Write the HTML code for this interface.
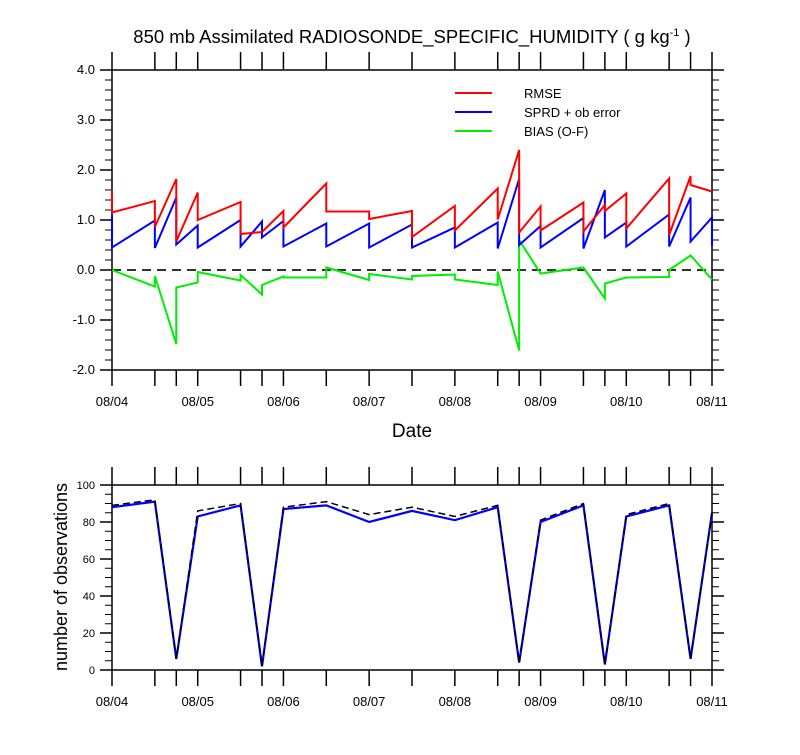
<!DOCTYPE html>
<html><head><meta charset="utf-8"><style>
body{margin:0;background:#fff;}
svg text{font-family:"Liberation Sans",Arial,sans-serif;}
</style></head><body>
<svg id="chart" width="800" height="750" xmlns="http://www.w3.org/2000/svg">
<text x="412" y="43" text-anchor="middle" font-size="18.5">850 mb Assimilated RADIOSONDE_SPECIFIC_HUMIDITY ( g kg<tspan dy="-7" font-size="11">-1</tspan><tspan dy="7"> )</tspan></text>
<text x="412" y="437" text-anchor="middle" font-size="19">Date</text>
<text transform="translate(67,577) rotate(-90)" text-anchor="middle" font-size="18">number of observations</text>
<g id="topPanel"></g>
<g id="botPanel"></g>
<g id="legend"></g>
</svg>
<script>
const times=[0,12,18,24,36,42,48,60,72,84,96,108,114,120,132,138,144,156,162,168];
const dateLabels=["08/04","08/05","08/06","08/07","08/08","08/09","08/10","08/11"];
const yTicksTop=[-2,-1,0,1,2,3,4];
const yTicksBot=[0,20,40,60,80,100];
const rmsePrior=[1.6,1.38,1.82,1.55,1.36,0.76,1.18,1.73,1.17,1.18,1.28,1.63,2.4,1.27,1.35,1.3,1.53,1.83,1.88,1.57];
const rmsePost=[1.15,0.86,0.57,1.0,0.72,0.76,0.85,1.17,1.02,0.66,0.79,1.01,0.75,0.79,0.77,1.18,0.83,0.7,1.7,1.57];
const sprdPrior=[1.1,0.99,1.45,0.89,1.0,0.97,0.98,0.93,0.93,0.91,0.85,0.95,1.82,0.88,1.04,1.6,0.95,1.11,1.45,1.05];
const sprdPost=[0.45,0.44,0.51,0.45,0.47,0.65,0.47,0.47,0.45,0.45,0.45,0.43,0.5,0.45,0.43,0.65,0.47,0.47,0.57,0.48];
const biasPrior=[0,-0.33,-1.48,-0.25,-0.21,-0.49,-0.13,-0.15,-0.2,-0.19,-0.09,-0.3,-1.61,-0.07,0.05,-0.57,-0.15,-0.14,0.29,-0.19];
const biasPost=[0,-0.12,-0.35,-0.04,-0.1,-0.3,-0.15,0.05,-0.08,-0.12,-0.19,-0.03,0.6,-0.07,0.05,-0.27,-0.15,0.0,0.29,-0.19];
const obsUsed=[88,91,6,83,89,2,87,89,80,86,81,88,4,80,89,3,83,89,6,85];
const obsPoss=[89,92,6,86,90,2,88,91,84,88,83,89,4,81,90,3,84,90,6,85];

const NS="http://www.w3.org/2000/svg";
const X0=112,X1=712;
const xs=h=>X0+(X1-X0)*h/168;
const T0=70,T1=370,yt=v=>T1-(v+2)*(T1-T0)/6;
const B0=485,B1=670,yb=v=>B1-v*(B1-B0)/100;
function el(p,tag,a){const e=document.createElementNS(NS,tag);for(const k in a)e.setAttribute(k,a[k]);p.appendChild(e);return e;}
function frame(g,ytop,ybot,ticks,ys,fmt,minorStep,lo,hi){
  const r=el(g,'rect',{x:X0,y:ytop,width:X1-X0,height:ybot-ytop,fill:'none',stroke:'#000','stroke-width':1.5});
  
  
  times.forEach(t=>{
    const a=el(g,'line',{x1:xs(t),x2:xs(t),y1:ytop-18,y2:ytop,stroke:'#000','stroke-width':1.5});
    
    
    const b=el(g,'line',{x1:xs(t),x2:xs(t),y1:ybot,y2:ybot+16,stroke:'#000','stroke-width':1.5});
    
    
  });
  dateLabels.forEach((d,i)=>{
    const tx=el(g,'text',{x:xs(i*24),y:ybot+36,'text-anchor':'middle','font-size':13});
    tx.textContent=d;
    
    
  });
  for(let v=lo;v<=hi+1e-9;v+=minorStep){
    [[X0,-7],[X1,7]].forEach(([x,d])=>{
      const m=el(g,'line',{x1:x,x2:x+d,y1:ys(v),y2:ys(v),stroke:'#000','stroke-width':1});
      
      
    });
  }
  ticks.forEach(v=>{
    [[X0,-12],[X1,12]].forEach(([x,d])=>{
      const m=el(g,'line',{x1:x,x2:x+d,y1:ys(v),y2:ys(v),stroke:'#000','stroke-width':1.5});
      
      
    });
    const tx=el(g,'text',{x:X0-17,y:ys(v)+4,'text-anchor':'end','font-size':fmt===1?13:11});
    tx.textContent=fmt===1?v.toFixed(1):String(v);
    
    
  });
}
const gTop=document.getElementById('topPanel'),gBot=document.getElementById('botPanel');
frame(gTop,T0,T1,yTicksTop,yt,1,0.2,-2,4);
frame(gBot,B0,B1,yTicksBot,yb,0,5,0,100);
const z=el(gTop,'line',{x1:X0,x2:X1,y1:yt(0),y2:yt(0),stroke:'#333','stroke-width':2,'stroke-dasharray':'9,6'});


function saw(pr,po,color,name){
  let d='';times.forEach((t,i)=>{d+=(i?'L':'M')+xs(t)+','+yt(pr[i])+'L'+xs(t)+','+yt(po[i]);});
  const p=el(gTop,'path',{d:d,fill:'none',stroke:color,'stroke-width':2});
  
  
}
saw(biasPrior,biasPost,'#00ee00','bias-line');
saw(sprdPrior,sprdPost,'#0000ff','sprd-line');
saw(rmsePrior,rmsePost,'#ff0000','rmse-line');
function nline(vals,color,w,dash,name){
  const d=times.map((t,i)=>(i?'L':'M')+xs(t)+','+yb(vals[i])).join('');
  const a={d:d,fill:'none',stroke:color,'stroke-width':w};if(dash)a['stroke-dasharray']=dash;
  const p=el(gBot,'path',a);
  
  
}
nline(obsUsed,'#0000ff',2.2,null,'obs-used-line');
nline(obsPoss,'#000',1.5,'7,4','obs-possible-line');
const lg=document.getElementById('legend');
[['RMSE','#ff0000'],['SPRD + ob error','#0000ff'],['BIAS (O-F)','#00ee00']].forEach((e,i)=>{
  const y=93+i*19;
  const l=el(lg,'line',{x1:455,x2:492,y1:y,y2:y,stroke:e[1],'stroke-width':2});
  
  
  const t=el(lg,'text',{x:524,y:y+5,'font-size':13});
  t.textContent=e[0];
  
  
});
</script>
</body></html>
